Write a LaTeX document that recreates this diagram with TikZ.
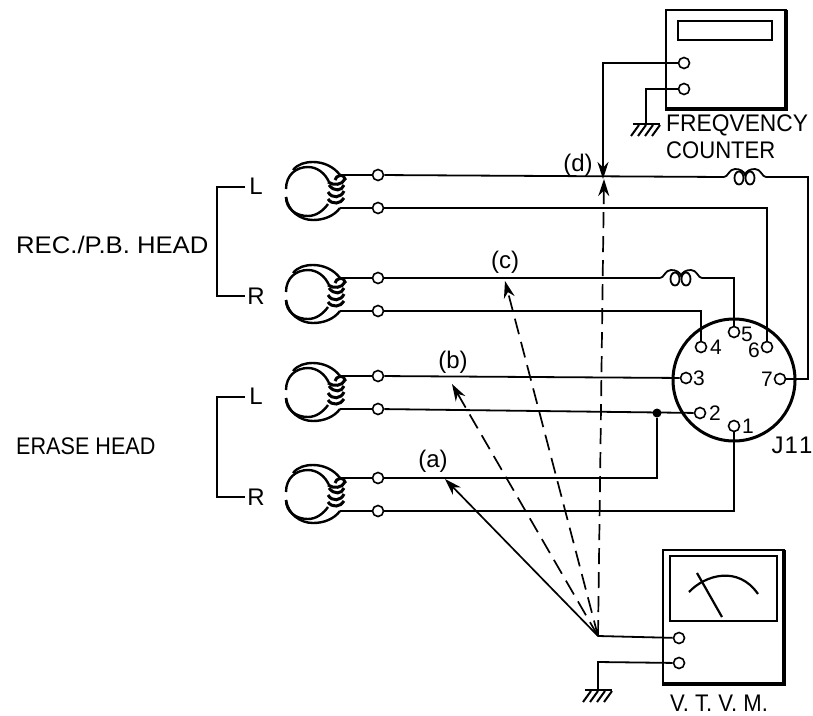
\documentclass[tikz,border=0pt]{standalone}
\usepackage{fontspec}
\setmainfont{Liberation Sans}
\usetikzlibrary{arrows.meta,calc}
\tikzset{
  wire/.style={line width=1.8pt,line join=miter},
  heavy/.style={line width=3.4pt},
  frame/.style={line width=2pt},
  term/.style={circle,draw,line width=1.6pt,fill=white,minimum size=11pt,inner sep=0pt},
  dot/.style={circle,fill=black,minimum size=9pt,inner sep=0pt},
  lab/.style={inner sep=0pt,font=\fontsize{24}{26}\selectfont},
  small/.style={inner sep=0pt,font=\fontsize{21}{21}\selectfont},
  probe/.style={line width=1.7pt,-{Stealth[length=17pt,width=11pt]}},
  dprobe/.style={probe,dash pattern=on 16pt off 8pt},
  hatch/.style={line width=2pt}
}
\newcommand{\gndsym}[2]{%
  \draw[line width=2.2pt] (#1-13,#2) -- (#1+14,#2);
  \foreach \i in {-13,-6,1,8}{\draw[hatch] (#1+\i+6,#2+1) -- (#1+\i-2,#2+12);}
}
\newcommand{\loadcoil}[2]{%
  \draw[wire] (#1-21,#2) .. controls (#1-17,#2) and (#1-16,#2-8) .. (#1-10,#2-8)
    .. controls (#1-5,#2-8) and (#1-1,#2-6) .. (#1,#2-2)
    .. controls (#1+1,#2-6) and (#1+5,#2-8) .. (#1+10,#2-8)
    .. controls (#1+16,#2-8) and (#1+17,#2) .. (#1+21,#2);
  \draw[wire] (#1-6,#2+1) ellipse [x radius=4.5,y radius=6.5];
  \draw[wire] (#1+5,#2+1) ellipse [x radius=4.5,y radius=6.5];
}
\newcommand{\nar}[1]{\scalebox{.92}[1]{#1}}
\begin{document}
\begin{tikzpicture}[x=1pt,y=-1pt]
\useasboundingbox (0,0) rectangle (813,715);
\fill[white] (0,0) rectangle (813,715);

% heads
\foreach \n/\cy in {ha/191,hb/294,hc/392,hd/494}{
  \begin{scope}[shift={(0,\cy)}]
    \draw[line width=2.4pt] (286,-2) .. controls (286,-16) and (296,-24) .. (308,-24)
       .. controls (317,-24) and (325,-18) .. (329,-9);
    \draw[line width=2.4pt] (286,6) .. controls (286,18) and (296,25) .. (308,25)
       .. controls (316,25) and (323,20) .. (328,13);
    \draw[line width=2.4pt] (293,-21) .. controls (298,-27) and (305,-29) .. (313,-29)
       .. controls (324,-29) and (334,-24) .. (340,-16);
    \draw[line width=2.4pt] (286,6) .. controls (288,20) and (300,29) .. (313,29)
       .. controls (324,29) and (334,25) .. (340,17);
    \draw[line width=3pt] (328,-9) .. controls (334,-5) and (342,-6) .. (345,-12)
       .. controls (344,-18) and (336,-16) .. (335,-11);
    \draw[line width=3pt] (329,-6) .. controls (334,1) and (342,0) .. (344,-6);
    \draw[line width=3pt] (328,1) .. controls (332,8) and (341,7) .. (344,0);
    \draw[line width=3pt] (328,8) .. controls (332,14) and (341,13) .. (344,7);
    \node[term] (\n t) at (378,-16) {};
    \node[term] (\n b) at (378,17) {};
    \coordinate (\n ta) at (340,-16);
    \coordinate (\n ba) at (340,17);
    \draw[wire] (\n ta) -- (\n t);
    \draw[wire] (\n ba) -- (\n b);
  \end{scope}
}

% connector
\node[circle,draw,line width=3pt,minimum size=122pt,inner sep=0pt] (jack) at (734,380) {};
\node[term] (p1) at (734,426) {};
\node[term] (p2) at (700,413) {};
\node[term] (p3) at (686,378) {};
\node[term] (p4) at (701,347) {};
\node[term] (p5) at (734,332) {};
\node[term] (p6) at (767,347) {};
\node[term] (p7) at (780,379) {};
\node[small,anchor=west] at (742,426) {1};
\node[small,anchor=west] at (709,413) {2};
\node[small,anchor=west] at (693,378) {3};
\node[small,anchor=west] at (710,347) {4};
\node[small,anchor=west] at (741,334) {5};
\node[small,anchor=east] at (760,350) {6};
\node[small,anchor=east] at (773,379) {7};
\node[lab] at (792,445) {J\kern1pt 1\kern1pt 1};

% wiring
\coordinate (c1l) at (724,177); \coordinate (c1r) at (766,177);
\coordinate (c2l) at (660,278); \coordinate (c2r) at (702,278);
\loadcoil{745}{177}
\loadcoil{681}{278}
\draw[wire] (hat) -- (c1l);
\draw[wire] (c1r) -| (808,379) -- (p7);
\draw[wire] (hab) -| (p6);
\draw[wire] (hbt) -- (c2l);
\draw[wire] (c2r) -| (p5);
\draw[wire] (hbb) -| (p4);
\draw[wire] (hct) -- (p3);
\draw[wire] (hcb) -- (p2);
\node[dot] (junc) at (657,413) {};
\draw[wire] (hdt) -| (junc);
\draw[wire] (hdb) -| (p1);

% brackets
\draw[wire] (245,187) -- (217,187) -- (217,296) -- (245,296);
\draw[wire] (245,397) -- (217,397) -- (217,497) -- (245,497);
\node[lab] at (256,186) {L};
\node[lab] at (256,296) {R};
\node[lab] at (256,396) {L};
\node[lab] at (256,497) {R};
\node[lab,anchor=west] at (16,245) {\scalebox{1.07}[1]{REC./P.B. HEAD}};
\node[lab,anchor=west] at (16,446) {\scalebox{.9}[1]{ERASE HEAD}};

% frequency counter
\draw[frame] (666,10) rectangle (786,108);
\draw[heavy] (786,10) -- (786,109) -- (665,109);
\draw[frame] (678,21) rectangle (772,40);
\node[term] (fa) at (684,63) {};
\node[term] (fb) at (684,89) {};
\coordinate (dtip) at (603,179);
\coordinate (fg) at (646,124);
\draw[probe] (fa) -- (603,63) -- (dtip);
\draw[wire] (fb) -| (fg);
\gndsym{646}{124}
\node[lab,anchor=west] at (666,125) {\scalebox{.95}[1]{FREQVENCY}};
\node[lab,anchor=west] at (666,150) {\nar{COUNTER}};

% vtvm
\draw[frame] (663,550) rectangle (784,684);
\draw[heavy] (784,550) -- (784,684) -- (662,684);
\draw[line width=2.4pt] (670,556) rectangle (777,621);
\draw[line width=2.2pt] (689,592) .. controls (705,575) and (738,565) .. (758,594);
\draw[line width=2.2pt] (697,573) -- (722,617);
\node[term] (va) at (679,638) {};
\node[term] (vb) at (679,663) {};
\coordinate (hub) at (598,636);
\coordinate (vg) at (598,690);
\draw[wire] (va) -- (hub);
\draw[wire] (vb) -- (598,662) -- (vg);
\gndsym{598}{690}
\node[lab] at (719,703) {\nar{V. T. V. M.}};

% probes
\coordinate (atip) at (445,479);
\coordinate (btip) at (452,384);
\coordinate (ctip) at (505,281);
\coordinate (dbot) at (604,179);
\draw[probe] (hub) -- (atip);
\draw[dprobe] (hub) -- (btip);
\draw[dprobe] (hub) -- (ctip);
\draw[dprobe] (hub) -- (dbot);
\node[lab] at (433,461) {(a)};
\node[lab] at (453,362) {(b)};
\node[lab] at (505,262) {(c)};
\node[lab] at (578,165) {(d)};
\end{tikzpicture}
\end{document}
